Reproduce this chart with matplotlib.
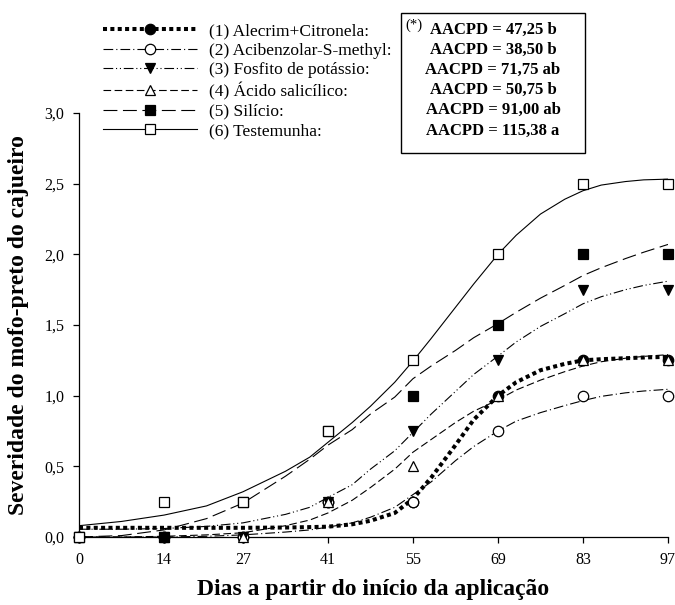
import matplotlib
matplotlib.use('Agg')
import matplotlib.pyplot as plt
from matplotlib.lines import Line2D
from matplotlib.patches import Rectangle

plt.rcParams['font.family'] = ['Liberation Serif', 'DejaVu Serif']
plt.rcParams['lines.scale_dashes'] = False

# dias de avaliacao e severidade observada (notas medias)
dias = [0, 14, 27, 41, 55, 69, 83, 97]
alecrim = [0, 0, 0, 0.25, 0.25, 1.0, 1.25, 1.25]
acibenzolar = [0, 0, 0, 0.25, 0.25, 0.75, 1.0, 1.0]
fosfito = [0, 0, 0, 0.25, 0.75, 1.25, 1.75, 1.75]
acido = [0, 0, 0, 0.25, 0.5, 1.0, 1.25, 1.25]
silicio = [0, 0, 0.25, 0.75, 1.0, 1.5, 2.0, 2.0]
testemunha = [0, 0.25, 0.25, 0.75, 1.25, 2.0, 2.5, 2.5]

# curvas ajustadas
dias_curva = [0, 7, 14, 21, 27, 34, 38, 41, 45, 48, 52, 55, 58, 62, 65, 69, 72, 76,
              80, 83, 86, 90, 93, 97]
c_alecrim = [0.065, 0.065, 0.065, 0.065, 0.065, 0.067, 0.07, 0.073, 0.09, 0.115, 0.17, 0.27,
             0.42, 0.65, 0.83, 1.0, 1.095, 1.18, 1.225, 1.25, 1.258, 1.265, 1.27, 1.275]
c_acibenzolar = [0.0, 0.0, 0.0, 0.005, 0.015, 0.035, 0.05, 0.07, 0.10, 0.14, 0.21, 0.30,
                 0.39, 0.54, 0.64, 0.75, 0.82, 0.88, 0.93, 0.965, 0.995, 1.02, 1.033, 1.045]
c_fosfito = [0.055, 0.055, 0.06, 0.075, 0.10, 0.16, 0.21, 0.28, 0.37, 0.48, 0.61, 0.74,
             0.87, 1.03, 1.15, 1.28, 1.38, 1.49, 1.58, 1.65, 1.70, 1.75, 1.78, 1.81]
c_acido = [0.0, 0.0, 0.005, 0.015, 0.03, 0.08, 0.12, 0.17, 0.26, 0.35, 0.48, 0.60,
           0.69, 0.81, 0.89, 0.97, 1.04, 1.11, 1.17, 1.21, 1.24, 1.265, 1.278, 1.29]
c_silicio = [0.0, 0.01, 0.05, 0.13, 0.24, 0.43, 0.55, 0.65, 0.76, 0.87, 0.99, 1.12,
             1.21, 1.32, 1.41, 1.51, 1.59, 1.69, 1.78, 1.85, 1.905, 1.97, 2.015, 2.07]
c_testemunha = [0.08, 0.11, 0.155, 0.22, 0.32, 0.465, 0.565, 0.67, 0.81, 0.925, 1.095, 1.245,
                1.405, 1.625, 1.79, 2.0, 2.135, 2.285, 2.39, 2.45, 2.49, 2.515, 2.527, 2.532]

nomes = ['(1) Alecrim+Citronela:', '(2) Acibenzolar-S-methyl:', '(3) Fosfito de potássio:',
         '(4) Ácido salicílico:', '(5) Silício:', '(6) Testemunha:']
aacpd = ['AACPD = 47,25 b', 'AACPD = 38,50 b', 'AACPD = 71,75 ab',
         'AACPD = 50,75 b', 'AACPD = 91,00 ab', 'AACPD = 115,38 a']
yticks = [0, 0.5, 1.0, 1.5, 2.0, 2.5, 3.0]
ytick_labels = ['0,0', '0,5', '1,0', '1,5', '2,0', '2,5', '3,0']

obs = [alecrim, acibenzolar, fosfito, acido, silicio, testemunha]
curvas = [c_alecrim, c_acibenzolar, c_fosfito, c_acido, c_silicio, c_testemunha]
estilos = [
    dict(marker='o', mfc='black', ms=7.5, lw=2.9, ls=(0, (2.9, 2.4))),
    dict(marker='o', mfc='white', ms=7.5, lw=0.8, ls=(0, (7, 2.2, 0.8, 2.2))),
    dict(marker='v', mfc='black', ms=7.5, lw=0.8, ls=(0, (7, 2, 0.8, 2, 0.8, 2))),
    dict(marker='^', mfc='white', ms=7.5, lw=0.8, ls=(0, (5.5, 2.5))),
    dict(marker='s', mfc='black', ms=6.5, lw=0.8, ls=(0, (10, 4))),
    dict(marker='s', mfc='white', ms=6.5, lw=0.8, ls='-'),
]

fig = plt.figure(figsize=(6.75, 6.05), dpi=100)
ax = fig.add_axes([79 / 675, 68 / 605, 589 / 675, 424 / 605])

handles = []
for c, st in zip(curvas, estilos):
    ax.plot(dias_curva, c, color='black', lw=st['lw'], ls=st['ls'],
            dash_capstyle='butt', zorder=2)
for y, st in zip(obs, estilos):
    ax.plot(dias, y, ls='none', marker=st['marker'], ms=st['ms'], mfc=st['mfc'],
            mec='black', mew=0.9, clip_on=False, zorder=3)
    handles.append(Line2D([], [], color='black', lw=st['lw'], ls=st['ls'],
                          dash_capstyle='butt', marker=st['marker'], ms=st['ms'],
                          mfc=st['mfc'], mec='black', mew=0.9))

ax.set_xlim(0, 97)
ax.set_ylim(0, 3.0)
ax.set_xticks(dias)
ax.set_xticklabels([str(d) for d in dias])
ax.set_yticks(yticks)
ax.set_yticklabels(ytick_labels)
ax.spines['top'].set_visible(False)
ax.spines['right'].set_visible(False)
for s in ['left', 'bottom']:
    ax.spines[s].set_linewidth(0.9)
ax.tick_params(direction='out', length=4.5, width=0.9, labelsize=11.5, pad=6)

ax.set_xlabel('Dias a partir do início da aplicação', fontsize=17, fontweight='bold', labelpad=8)
ax.set_ylabel('Severidade do mofo-preto do cajueiro', fontsize=17, fontweight='bold', labelpad=11)

fig.legend(handles, nomes, loc='upper left', bbox_to_anchor=(103 / 675, 1 - 23 / 605),
           frameon=False, fontsize=12.5, handlelength=5.4, handletextpad=0.7,
           labelspacing=0.2, borderpad=0, borderaxespad=0, numpoints=1)

fig.patches.append(Rectangle((401 / 675, 1 - 153 / 605), 184 / 675, 140 / 605,
                             transform=fig.transFigure, fill=False, ec='black', lw=1.0))
fig.text(493 / 675, 1 - 22 / 605, '\n'.join(aacpd), ha='center', va='top',
         multialignment='center', fontsize=12, fontweight='bold', linespacing=1.34)
fig.text(405 / 675, 1 - 19 / 605, '(*)', ha='left', va='top', fontsize=10.5)

fig.savefig('out.png', dpi=100)
